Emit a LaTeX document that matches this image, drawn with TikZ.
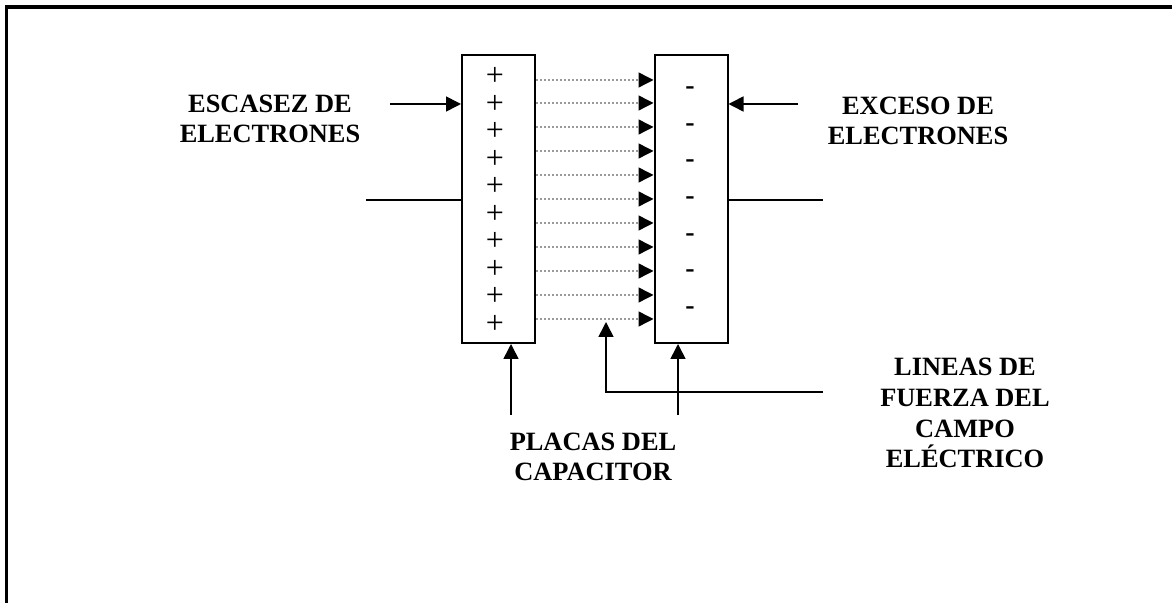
\documentclass[tikz,border=0pt]{standalone}
\usepackage{fontspec}
\setmainfont{Liberation Serif}
\usepackage{tikz}
\usetikzlibrary{arrows.meta, positioning, calc}
\tikzset{
  plate/.style={draw, line width=1pt, minimum width=36.5pt,
                minimum height=144pt, inner sep=0pt},
  lbl/.style={font=\fontsize{13.2}{15.4}\selectfont\bfseries, align=center,
              inner sep=0pt, anchor=base},
  charge/.style={font=\fontsize{16}{16}\selectfont, inner sep=0pt},
  arrow/.style={-{Triangle[length=7.5pt, width=7.5pt]}, line width=0.8pt},
  fieldline/.style={-{Triangle[length=7.5pt, width=7.5pt, color=black]},
                    dash pattern=on 1pt off 1pt, draw=gray!80, line width=0.7pt},
  wire/.style={line width=0.9pt},
}
\begin{document}
\begin{tikzpicture}[x=0.5pt, y=-0.5pt]
  \useasboundingbox (0,0) rectangle (1172,603);
  % frame
  \draw[line width=1.8pt] (6.5,610) -- (6.5,7) -- (1180,7);

  \node[plate] (lplate) at (498.5,199) {};
  \node[plate] (rplate) at (691,199) {};

  \foreach \i in {0,...,9}
    \node[charge] (plus\i) at (495,76.7+27.5*\i) {+};
  \foreach \i in {0,...,6}
    \node[charge, font=\fontsize{14}{14}\selectfont\bfseries] (minus\i)
      at (690,90.5+36.7*\i) {-};

  \foreach \y in {80,103,127,151,175,199,223,247,271,295,319}
    \draw[fieldline] (lplate.east |- 0,\y) -- (rplate.west |- 0,\y);

  % base = last line
  \node[lbl] (escasez) at (270,143) {ESCASEZ DE\\ELECTRONES};
  \node[lbl] (exceso) at (918,145) {EXCESO DE\\ELECTRONES};
  \node[lbl] (placas) at (593,481) {PLACAS DEL\\CAPACITOR};
  \node[lbl] (lineas) at (965,468) {LINEAS DE\\FUERZA DEL\\CAMPO\\ELÉCTRICO};

  \coordinate (escstart) at (390,104);
  \coordinate (excstart) at (798,104);
  \coordinate (lterm) at (366,200);
  \coordinate (rterm) at (823,200);
  \coordinate (lfoot) at (511,415);
  \coordinate (rfoot) at (678,415);
  \coordinate (fstart) at (823,392);
  \coordinate (ftip) at (606,322);

  \draw[arrow] (escstart) -- (lplate.west |- escstart);
  \draw[arrow] (excstart) -- (rplate.east |- excstart);
  \draw[wire] (lterm) -- (lplate.west |- lterm);
  \draw[wire] (rplate.east |- rterm) -- (rterm);
  \draw[arrow] (lfoot) -- (lfoot |- lplate.south);
  \draw[arrow] (rfoot) -- (rfoot |- rplate.south);
  \draw[arrow] (fstart) -| (ftip);
\end{tikzpicture}
\end{document}
